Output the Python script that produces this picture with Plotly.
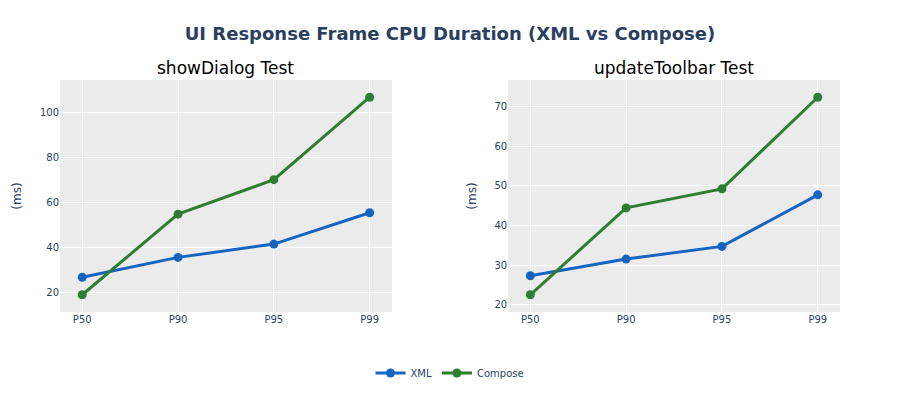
import plotly.graph_objects as go
from plotly.subplots import make_subplots

categories = ["P50", "P90", "P95", "P99"]
show_xml = [26.9, 35.7, 41.6, 55.5]
show_compose = [19.1, 54.9, 70.2, 106.8]
toolbar_xml = [27.3, 31.5, 34.7, 47.7]
toolbar_compose = [22.5, 44.4, 49.2, 72.3]

blue = "#1565C0"
green = "#2E7D32"

fig = make_subplots(rows=1, cols=2, subplot_titles=("showDialog Test", "updateToolbar Test"),
                    horizontal_spacing=0.149)

for col, (xv, cv) in enumerate([(show_xml, show_compose), (toolbar_xml, toolbar_compose)], start=1):
    fig.add_trace(go.Scatter(x=categories, y=xv, mode="lines+markers", name="XML",
                             line=dict(color=blue, width=3), marker=dict(size=9),
                             showlegend=(col == 1), legendgroup="xml"), row=1, col=col)
    fig.add_trace(go.Scatter(x=categories, y=cv, mode="lines+markers", name="Compose",
                             line=dict(color=green, width=3), marker=dict(size=9),
                             showlegend=(col == 1), legendgroup="compose"), row=1, col=col)

fig.update_layout(
    width=884, height=384,
    template="plotly_white",
    font=dict(family="DejaVu Sans, Verdana, sans-serif", size=10, color="#2a3f5f"),
    title=dict(text="<b>UI Response Frame CPU Duration (XML vs Compose)</b>", x=0.5, xanchor="center",
               xref="paper", y=1 - 26 / 384, yanchor="middle", yref="container",
               font=dict(size=18, color="#2a3f5f")),
    plot_bgcolor="#EBEBEB",
    paper_bgcolor="white",
    margin=dict(l=52, r=52, t=72, b=80, autoexpand=False),
    legend=dict(orientation="h", x=0.5, xanchor="center", y=-0.263, yanchor="middle",
                font=dict(size=10)),
)
for ann in fig.layout.annotations:
    ann.font = dict(family="DejaVu Sans, sans-serif", size=17, color="black")

fig.update_xaxes(showgrid=True, gridcolor="white", gridwidth=1, zeroline=False, showline=False,
                 automargin=False)
fig.update_yaxes(showgrid=True, gridcolor="white", gridwidth=1, zeroline=False, showline=False,
                 title_text="(ms)", automargin=False)

fig.write_html("out.html")
